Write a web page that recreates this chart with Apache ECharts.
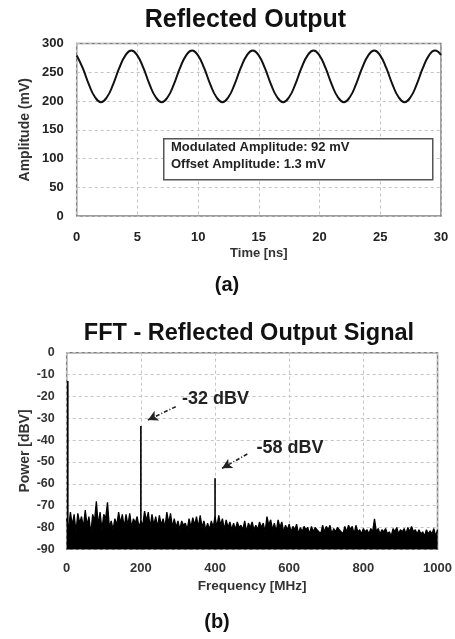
<!DOCTYPE html>
<html>
<head>
<meta charset="utf-8">
<script src="https://cdn.jsdelivr.net/npm/echarts@6/dist/echarts.min.js"></script>
<style>html,body{margin:0;padding:0;background:#fff;}#c{width:455px;height:639px;}</style>
</head>
<body>
<div id="c"></div>
<script>
// ---------- (a) Reflected Output ----------
const timeStartNs = 0;
const timeStepNs = 0.5;
const amplitudeMv = [
  279,257,229,207,198,207,229,257,279,288,
  279,257,229,207,198,207,229,257,279,288,
  279,257,229,207,198,207,229,257,279,288,
  279,257,229,207,198,207,229,257,279,288,
  279,257,229,207,198,207,229,257,279,288,
  279,257,229,207,198,207,229,257,279,288,
  280
];
const timeTicks = [0, 30, 5];      // min, max, interval
const ampTicks = [0, 300, 50];
const boxLines = ['Modulated Amplitude: 92 mV', 'Offset Amplitude: 1.3 mV'];

// ---------- (b) FFT ----------
const freqStepMHz = 10;
// local maxima of the noise floor at 0,10,...,1000 MHz
const noisePeak = [
  -76,-73,-74,-73.5,-75,-72,-75,-74,-68,-73,
  -74,-68.5,-77,-76,-73,-74,-74,-73.5,-76,-75,
  -77,-72.5,-73,-74,-75,-74.5,-76,-73,-73.5,-76,
  -77,-77,-78,-76,-75.5,-75,-74.5,-77,-78,-77,
  -75,-74.5,-76,-76.5,-77.5,-78,-77.5,-79,-77,-78,
  -77.5,-79,-77.5,-78,-75,-76.5,-78,-76.5,-77.5,-79,
  -78.5,-79.5,-78.5,-80,-79.5,-80,-79.5,-80,-81,-79,
  -79.5,-79,-80.5,-80,-81,-79.5,-79,-79.5,-79,-81,
  -80.5,-81,-80.5,-76,-80.5,-81,-80.5,-82,-80.5,-80,
  -81,-80.5,-80,-79.5,-81,-81,-82,-81,-81.5,-80.5,
  -81
];
// local minima of the noise floor at 5,15,...,995 MHz
const noiseValley = [
  -81,-79,-82,-78,-80,-79,-83,-77,-79,-81,
  -76,-80,-81,-79,-78,-80,-79,-80,-78,-80,
  -79,-77,-80,-79,-80,-79,-80,-78,-80,-80,
  -81,-79,-81,-80,-79,-80,-80,-81,-81,-80,
  -80,-79,-81,-80,-81,-81,-80,-81,-82,-80,
  -81,-81,-80,-82,-79,-81,-82,-80,-82,-81,
  -82,-81,-83,-82,-81,-83,-82,-81,-83,-82,
  -81,-83,-82,-81,-83,-82,-81,-83,-82,-83,
  -82,-83,-82,-82,-83,-82,-83,-84,-82,-83,
  -82,-83,-82,-82,-83,-83,-84,-83,-83,-84
];
const spikeFreqMHz = [3, 200, 400];
const spikeLevelDbv = [-13, -33.5, -57.5];
const spikeLabels = ['-32 dBV', '-58 dBV'];
const labelAnchor = [[311, -21.2], [512, -43.6]];
const arrowFrom = [[294, -24.7], [487, -46.4]];
const arrowTo = [[219, -30.8], [419, -52.9]];
const freqTicks = [0, 1000, 200];
const powerTicks = [-90, 0, 10];

const FONT = '"Liberation Sans", Arial, sans-serif';

const sineData = amplitudeMv.map((v, i) => [timeStartNs + i * timeStepNs, v]);
const noiseData = [];
noisePeak.forEach((v, i) => {
  noiseData.push([i * freqStepMHz, v]);
  if (i < noiseValley.length) noiseData.push([i * freqStepMHz + freqStepMHz / 2, noiseValley[i]]);
});

const grid = {show: true, borderColor: '#7f7f7f', borderWidth: 1.5, backgroundColor: '#fff'};
const split = {show: true, lineStyle: {type: [3, 3], color: '#c4c4c4', width: 1}};
const lab = {color: '#222', fontFamily: FONT, fontWeight: 'bold', fontSize: 13, formatter: v => String(v)};
const nameStyle = {color: '#333', fontFamily: FONT, fontWeight: 'bold', fontSize: 13};

const spikeSeries = spikeFreqMHz.map((f, i) => ({
  type: 'line', xAxisIndex: 1, yAxisIndex: 1, symbol: 'none', z: 4,
  lineStyle: {color: '#000', width: 1.6},
  data: [[f, powerTicks[0]], [f, spikeLevelDbv[i]]]
}));

function label(text, x, y, font) {
  return {type: 'text', x: x, y: y, z: 20,
    style: {text: text, align: 'center', verticalAlign: 'middle',
            textAlign: 'center', textVerticalAlign: 'middle', font: font, fill: '#111'}};
}

const option = {
  animation: false,
  backgroundColor: '#fff',
  grid: [
    Object.assign({left: 76.7, top: 43.5, width: 364.3, height: 172.5}, grid),
    Object.assign({left: 66.7, top: 352.7, width: 372, height: 196.6}, grid)
  ],
  xAxis: [
    {gridIndex: 0, type: 'value', min: timeTicks[0], max: timeTicks[1], interval: timeTicks[2],
     axisLine: {show: false}, axisTick: {show: false}, splitLine: split,
     axisLabel: Object.assign({margin: 15}, lab),
     name: 'Time [ns]', nameLocation: 'middle', nameGap: 31, nameMoveOverlap: false, nameTextStyle: nameStyle},
    {gridIndex: 1, type: 'value', min: freqTicks[0], max: freqTicks[1], interval: freqTicks[2],
     axisLine: {show: false}, axisTick: {show: false}, splitLine: split,
     axisLabel: Object.assign({margin: 13}, lab, {color: '#333'}),
     name: 'Frequency [MHz]', nameLocation: 'middle', nameGap: 30, nameMoveOverlap: false,
     nameTextStyle: Object.assign({}, nameStyle, {fontSize: 13.5})}
  ],
  yAxis: [
    {gridIndex: 0, type: 'value', min: ampTicks[0], max: ampTicks[1], interval: ampTicks[2],
     axisLine: {show: false}, axisTick: {show: false}, splitLine: split,
     axisLabel: Object.assign({margin: 13}, lab),
     name: 'Amplitude (mV)', nameLocation: 'middle', nameGap: 45, nameMoveOverlap: false,
     nameTextStyle: Object.assign({}, nameStyle, {fontSize: 14})},
    {gridIndex: 1, type: 'value', min: powerTicks[0], max: powerTicks[1], interval: powerTicks[2],
     axisLine: {show: false}, axisTick: {show: false}, splitLine: split,
     axisLabel: Object.assign({margin: 12}, lab, {color: '#333', fontSize: 12.5}),
     name: 'Power [dBV]', nameLocation: 'middle', nameGap: 35, nameMoveOverlap: false,
     nameTextStyle: Object.assign({}, nameStyle, {fontSize: 14})}
  ],
  series: [
    {type: 'line', xAxisIndex: 0, yAxisIndex: 0, data: sineData, smooth: true, symbol: 'none',
     lineStyle: {color: '#111', width: 2}},
    {type: 'line', xAxisIndex: 1, yAxisIndex: 1, data: noiseData, symbol: 'none', z: 3,
     lineStyle: {color: '#000', width: 1.3},
     areaStyle: {color: '#000', opacity: 1, origin: 'start'},
     markLine: {
       silent: true, symbol: ['none', 'arrow'], symbolSize: [8, 10],
       lineStyle: {type: [4, 2, 1, 2], color: '#222', width: 1.6},
       label: {show: false},
       data: arrowFrom.map((p, i) => [{coord: p}, {coord: arrowTo[i]}])
     },
     markPoint: {
       silent: true, symbol: 'circle', symbolSize: 0,
       label: {show: true, position: 'right', distance: 0, formatter: '{b}',
               color: '#222', fontFamily: FONT, fontSize: 18, fontWeight: 'bold'},
       data: spikeLabels.map((t, i) => ({name: t, coord: labelAnchor[i], value: 0}))
     }}
  ].concat(spikeSeries),
  graphic: [
    label('Reflected Output', 245.5, 20, 'bold 25px ' + FONT),
    label('FFT - Reflected Output Signal', 249, 334, 'bold 23.5px ' + FONT),
    label('(a)', 227, 285, 'bold 20px ' + FONT),
    label('(b)', 217, 622, 'bold 20px ' + FONT),
    {type: 'rect', left: 163, top: 138, z: 10, shape: {width: 269, height: 41},
     style: {fill: '#fff', stroke: '#555', lineWidth: 1.5}},
    {type: 'text', left: 171, top: 141, z: 11, style: {text: boxLines[0], font: 'bold 13px ' + FONT, fill: '#222'}},
    {type: 'text', left: 171, top: 158, z: 11, style: {text: boxLines[1], font: 'bold 13px ' + FONT, fill: '#222'}}
  ]
};
const chart = echarts.init(document.getElementById('c'), null, {renderer: 'canvas'});
chart.setOption(option);
</script>
</body>
</html>
